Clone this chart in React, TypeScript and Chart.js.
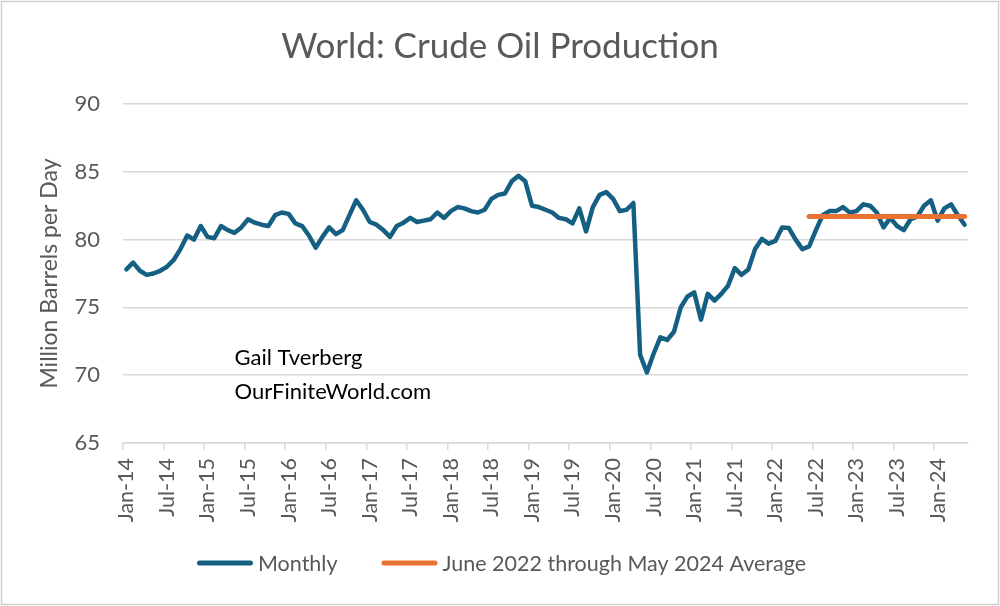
import React, { useEffect, useRef } from "react";
import Chart from "chart.js/auto";

// ---------- data ----------
const monthNames = ["Jan", "Feb", "Mar", "Apr", "May", "Jun", "Jul", "Aug", "Sep", "Oct", "Nov", "Dec"];
const yearSuffixes = ["14", "15", "16", "17", "18", "19", "20", "21", "22", "23", "24"];
const monthsInLastYear = 5; // data runs through May-24

const categories: string[] = [];
yearSuffixes.forEach((yy, yi) => {
  const n = yi === yearSuffixes.length - 1 ? monthsInLastYear : 12;
  for (let m = 0; m < n; m++) categories.push(`${monthNames[m]}-${yy}`);
});

// Million barrels per day, Jan-14 .. May-24
const monthlyProduction = [
  77.8, 78.3, 77.7, 77.4, 77.5, 77.7, 78.0, 78.5, 79.3, 80.3, 80.0, 81.0, // 2014
  80.2, 80.1, 81.0, 80.7, 80.5, 80.9, 81.5, 81.25, 81.1, 81.0, 81.8, 82.0, // 2015
  81.9, 81.2, 81.0, 80.3, 79.4, 80.2, 80.9, 80.4, 80.7, 81.8, 82.9, 82.2, // 2016
  81.3, 81.1, 80.7, 80.2, 81.0, 81.25, 81.6, 81.3, 81.4, 81.5, 82.0, 81.6, // 2017
  82.1, 82.4, 82.3, 82.1, 82.0, 82.2, 83.0, 83.3, 83.4, 84.3, 84.7, 84.3, // 2018
  82.5, 82.4, 82.2, 82.0, 81.6, 81.5, 81.2, 82.3, 80.6, 82.4, 83.3, 83.5, // 2019
  83.0, 82.1, 82.2, 82.7, 71.5, 70.2, 71.6, 72.8, 72.6, 73.2, 75.0, 75.8, // 2020
  76.1, 74.1, 76.0, 75.5, 76.0, 76.6, 77.9, 77.4, 77.8, 79.3, 80.05, 79.7, // 2021
  79.9, 80.9, 80.85, 80.0, 79.3, 79.5, 80.7, 81.8, 82.1, 82.1, 82.4, 82.0, // 2022
  82.1, 82.6, 82.5, 82.0, 80.9, 81.6, 81.0, 80.7, 81.5, 81.7, 82.5, 82.9, // 2023
  81.4, 82.3, 82.6, 81.8, 81.1, // 2024
];

const averageStart = "Jun-22";
const averageValue = 81.7;
const averageData = categories.map((c, i) => (i >= categories.indexOf(averageStart) ? averageValue : null));

const yMin = 65;
const yMax = 90;
const yStep = 5;
const xLabelEvery = 6;

const chartTitle = "World: Crude Oil Production";
const yAxisTitle = "Million Barrels per Day";
const seriesNames = ["Monthly", "June 2022 through May 2024 Average"];
const annotationLines = ["Gail Tverberg", "OurFiniteWorld.com"];
const annotationYValues = [71.3, 68.8];
const annotationCategory = "May-15";

// ---------- styles ----------
const FONT = "Lato, 'Open Sans', sans-serif";
const GRAY_TEXT = "#595959";
const GRID = "#d9d9d9";
const BLUE = "#156082";
const ORANGE = "#E97132";

const framePlugin = {
  id: "frame",
  beforeDraw(chart: any) {
    const { ctx, width, height } = chart;
    ctx.save();
    ctx.fillStyle = "#ffffff";
    ctx.fillRect(0, 0, width, height);
    ctx.strokeStyle = "#d0d0d0";
    ctx.lineWidth = 1.5;
    ctx.strokeRect(1.5, 1.5, width - 3, height - 3);
    ctx.restore();
  },
};

const annotationPlugin = {
  id: "annotationText",
  afterDatasetsDraw(chart: any) {
    const { ctx, scales } = chart;
    ctx.save();
    ctx.font = `22px ${FONT}`;
    ctx.fillStyle = "#000000";
    ctx.textAlign = "left";
    ctx.textBaseline = "middle";
    const x = scales.x.getPixelForValue(categories.indexOf(annotationCategory));
    annotationLines.forEach((t, i) => {
      ctx.fillText(t, x, scales.y.getPixelForValue(annotationYValues[i]));
    });
    ctx.restore();
  },
};

// Legend drawn as Excel-style line swatches
const LEGEND_Y = 563;
const legendPlugin = {
  id: "lineLegend",
  afterDraw(chart: any) {
    const { ctx } = chart;
    const boxW = 56;
    const textGap = 5;
    const itemGap = 44;
    ctx.save();
    ctx.font = `21.5px ${FONT}`;
    const items = chart.data.datasets.map((d: any) => ({ text: d.label, color: d.borderColor }));
    const widths = items.map((it: any) => boxW + textGap + ctx.measureText(it.text).width);
    const total = widths.reduce((a: number, b: number) => a + b, 0) + itemGap * (items.length - 1);
    let x = chart.width / 2 - total / 2 + 1.5;
    items.forEach((it: any, i: number) => {
      ctx.strokeStyle = it.color;
      ctx.lineWidth = 5;
      ctx.lineCap = "round";
      ctx.beginPath();
      ctx.moveTo(x + 2.5, LEGEND_Y);
      ctx.lineTo(x + boxW - 2.5, LEGEND_Y);
      ctx.stroke();
      ctx.fillStyle = GRAY_TEXT;
      ctx.textAlign = "left";
      ctx.textBaseline = "middle";
      ctx.fillText(it.text, x + boxW + textGap, LEGEND_Y + 1);
      x += widths[i] + itemGap;
    });
    ctx.restore();
  },
};

export default function App() {
  const ref = useRef<HTMLCanvasElement>(null);

  useEffect(() => {
    document.body.style.margin = "0";
    const canvas = ref.current!;
    const chart = new Chart(canvas, {
      type: "line",
      data: {
        labels: categories,
        datasets: [
          {
            label: seriesNames[0],
            data: monthlyProduction,
            borderColor: BLUE,
            backgroundColor: BLUE,
            borderWidth: 4.5,
            pointRadius: 0,
            tension: 0,
            borderJoinStyle: "round",
            borderCapStyle: "round",
            order: 1,
          },
          {
            label: seriesNames[1],
            data: averageData,
            borderColor: ORANGE,
            backgroundColor: ORANGE,
            borderWidth: 5,
            pointRadius: 0,
            tension: 0,
            borderCapStyle: "round",
            spanGaps: false,
            order: 0,
          },
        ],
      },
      options: {
        responsive: false,
        animation: false,
        events: [],
        layout: { padding: { left: 32, right: 32, top: 0, bottom: 70 } },
        plugins: {
          tooltip: { enabled: false },
          legend: { display: false },
          title: {
            display: true,
            text: chartTitle,
            color: GRAY_TEXT,
            font: { family: FONT, size: 35, weight: "normal" },
            padding: { top: 26, bottom: 36 },
          },
        },
        scales: {
          x: {
            type: "category",
            offset: true,
            afterFit: (s: any) => {
              s.height = 93;
            },
            grid: {
              offset: true,
              drawOnChartArea: false,
              drawTicks: true,
              tickLength: 7,
              lineWidth: 1.5,
              color: (ctx: any) => (ctx.index % xLabelEvery === 0 ? GRID : "rgba(0,0,0,0)"),
            },
            border: { display: true, color: GRID, width: 1.5 },
            ticks: {
              autoSkip: false,
              maxRotation: 90,
              minRotation: 90,
              padding: 8,
              color: GRAY_TEXT,
              font: { family: FONT, size: 21.5 },
              callback: (_v: any, i: number) => (i % xLabelEvery === 0 ? categories[i] : ""),
            },
          },
          y: {
            min: yMin,
            max: yMax,
            afterFit: (s: any) => {
              s.width = 91;
            },
            ticks: {
              stepSize: yStep,
              padding: 23,
              color: GRAY_TEXT,
              font: { family: FONT, size: 22 },
            },
            grid: { color: GRID, lineWidth: 1.5, drawTicks: false },
            border: { display: false },
            title: {
              display: true,
              text: yAxisTitle,
              color: GRAY_TEXT,
              font: { family: FONT, size: 23 },
              padding: { top: 4, bottom: 4 },
            },
          },
        },
      },
      plugins: [framePlugin, annotationPlugin, legendPlugin],
    });
    return () => chart.destroy();
  }, []);

  return (
    <div style={{ width: 1000, height: 606 }}>
      <canvas ref={ref} width={1000} height={606} style={{ display: "block" }} />
    </div>
  );
}
